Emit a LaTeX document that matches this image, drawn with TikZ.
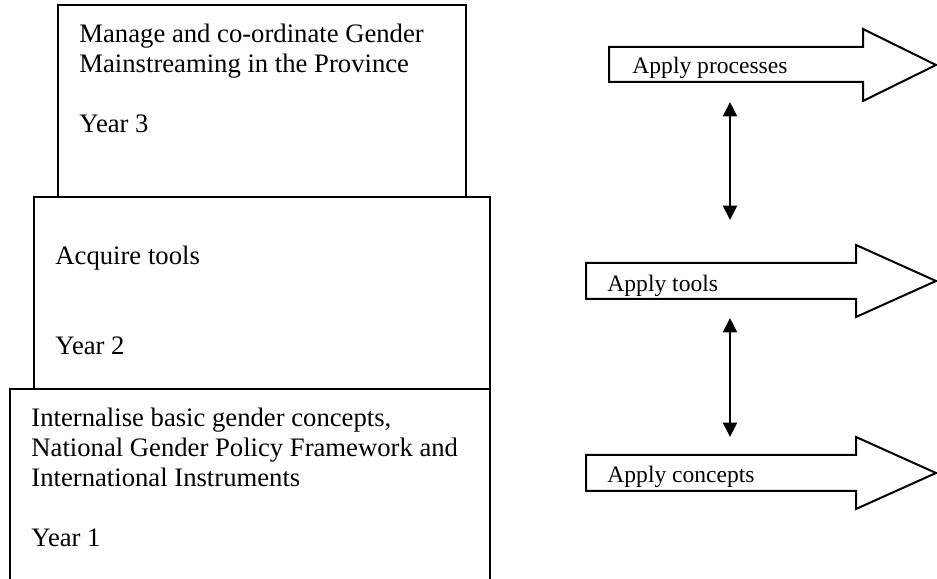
\documentclass[tikz,border=0pt]{standalone}
\usepackage{fontspec}
\setmainfont{Liberation Serif}
\usetikzlibrary{positioning,fit,arrows.meta}

\begin{document}
\begin{tikzpicture}[x=0.45pt,y=-0.45pt,
  yearbox/.style={draw,line width=0.9pt,inner sep=0pt,outer sep=0pt},
  yeartext/.style={anchor=base west,inner sep=0pt,align=left,font=\fontsize{12}{13.5}\selectfont},
  applyarrow/.style={draw,line width=0.9pt,line join=miter},
  applytext/.style={anchor=base west,inner sep=0pt,font=\fontsize{10.6}{12}\selectfont},
  link/.style={{Triangle[length=6.5pt,width=6.3pt]}-{Triangle[length=6.5pt,width=6.3pt]},line width=0.9pt}]

  \useasboundingbox (0,0) rectangle (937,579);

  % Year boxes, stacked
  \node[yearbox,fit={(58,5) (466,197)}] (Y3) {};
  \node[yearbox,fit={(34,197) (490,389)}] (Y2) {};
  \node[yearbox,fit={(10,389) (490,620)}] (Y1) {};

  % texts sit on the baseline of their last line
  \node[yeartext] (Y3text) at (79,133) {Manage and co-ordinate Gender\\Mainstreaming in the Province\\[13.5pt]Year 3};
  \node[yeartext] (Y2text) at (55,355) {Acquire tools\\[27pt]Year 2};
  \node[yeartext] (Y1text) at (31,547) {Internalise basic gender concepts,\\National Gender Policy Framework and\\International Instruments\\[13.5pt]Year 1};

  % Block arrows
  \draw[applyarrow] (609,47) -- (863,47) -- (863,29) -- (936,65) -- (863,101) -- (863,82) -- (609,82) -- cycle;
  \draw[applyarrow] (586,263) -- (856,263) -- (856,245) -- (936,281) -- (856,317) -- (856,299) -- (586,299) -- cycle;
  \draw[applyarrow] (586,455) -- (856,455) -- (856,437) -- (936,473) -- (856,509) -- (856,491) -- (586,491) -- cycle;

  \node[applytext] (A3) at (632,74) {Apply processes};
  \node[applytext] (A2) at (607,291.5) {Apply tools};
  \node[applytext] (A1) at (607,482.5) {Apply concepts};

  % Links between the arrows
  \coordinate (L1top) at (730,102);
  \coordinate (L1bot) at (730,220);
  \coordinate (L2top) at (730,318);
  \coordinate (L2bot) at (730,437);
  \draw[link] (L1top) -- (L1bot);
  \draw[link] (L2top) -- (L2bot);

\end{tikzpicture}
\end{document}
